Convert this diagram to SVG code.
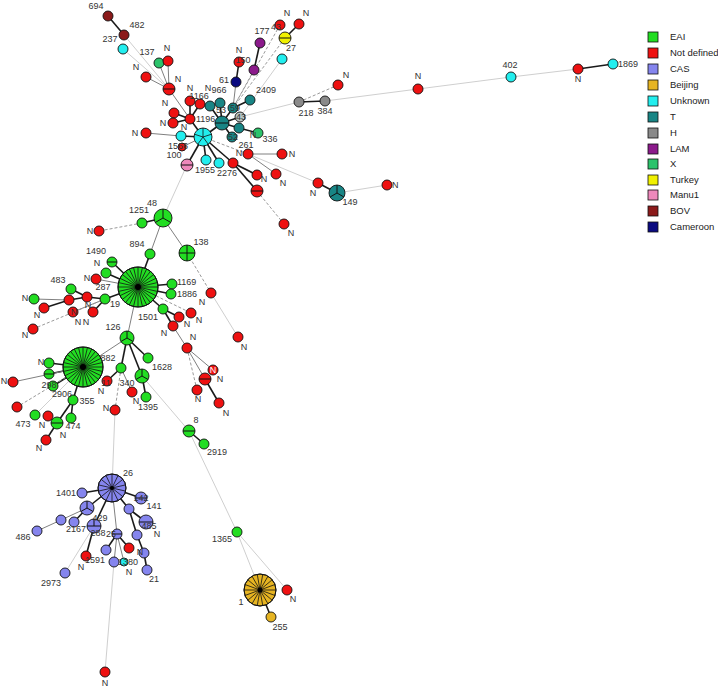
<svg xmlns="http://www.w3.org/2000/svg" width="718" height="688" viewBox="0 0 718 688">
<style>
line{fill:none}
.k{stroke:#1a1a1a;stroke-width:1.6}
.g{stroke:#808080;stroke-width:1}
.l{stroke:#cfcfcf;stroke-width:1}
.d{stroke:#9a9a9a;stroke-width:1;stroke-dasharray:3 2}
circle{stroke:#111;stroke-width:0.9}
.sec{stroke:#111;stroke-width:1;fill:none}
.spk{stroke:#111;stroke-width:0.8;fill:none}
.dot{fill:#000;stroke:none}
.eai{fill:#22dd22}.nd{fill:#ee1111}.cas{fill:#8585ee}.bei{fill:#e6b422}.unk{fill:#22eeee}
.t{fill:#188585}.h{fill:#8a8a8a}.lam{fill:#8b1a8b}.x{fill:#2cc36b}.tur{fill:#f0f000}
.man{fill:#ee88bb}.bov{fill:#8b1a1a}.cam{fill:#0a0a80}
text{font-family:"Liberation Sans",Arial,sans-serif;font-size:9px;fill:#333;text-anchor:middle}
.s{text-anchor:start}
.lg{font-size:9.5px;text-anchor:start;fill:#222}
</style>
<defs>
<line id="dia" x1="-1" y1="0" x2="1" y2="0" vector-effect="non-scaling-stroke"/>
<g id="w28" class="spk">
<use href="#dia"/><use href="#dia" transform="rotate(12.857)"/><use href="#dia" transform="rotate(25.714)"/><use href="#dia" transform="rotate(38.571)"/><use href="#dia" transform="rotate(51.429)"/><use href="#dia" transform="rotate(64.286)"/><use href="#dia" transform="rotate(77.143)"/><use href="#dia" transform="rotate(90)"/><use href="#dia" transform="rotate(102.857)"/><use href="#dia" transform="rotate(115.714)"/><use href="#dia" transform="rotate(128.571)"/><use href="#dia" transform="rotate(141.429)"/><use href="#dia" transform="rotate(154.286)"/><use href="#dia" transform="rotate(167.143)"/>
</g>
<g id="w18" class="spk">
<use href="#dia"/><use href="#dia" transform="rotate(20)"/><use href="#dia" transform="rotate(40)"/><use href="#dia" transform="rotate(60)"/><use href="#dia" transform="rotate(80)"/><use href="#dia" transform="rotate(100)"/><use href="#dia" transform="rotate(120)"/><use href="#dia" transform="rotate(140)"/><use href="#dia" transform="rotate(160)"/>
</g>
<g id="w14" class="spk">
<use href="#dia" transform="rotate(12.857)"/><use href="#dia" transform="rotate(38.571)"/><use href="#dia" transform="rotate(64.286)"/><use href="#dia" transform="rotate(90)"/><use href="#dia" transform="rotate(115.714)"/><use href="#dia" transform="rotate(141.429)"/><use href="#dia" transform="rotate(167.143)"/>
</g>
</defs>
<rect width="718" height="688" fill="#fff"/>
<g id="edges">
<line class="k" x1="108" y1="16" x2="124" y2="35"/>
<line class="l" x1="124" y1="35" x2="169" y2="89"/>
<line class="l" x1="123" y1="49" x2="169" y2="89"/>
<line class="g" x1="159" y1="63" x2="169" y2="89"/>
<line class="g" x1="168" y1="61" x2="169" y2="89"/>
<line class="g" x1="146" y1="77" x2="169" y2="89"/>
<line class="g" x1="169" y1="89" x2="190" y2="119"/>
<line class="k" x1="190" y1="101" x2="190" y2="119"/>
<line class="k" x1="200" y1="104" x2="190" y2="119"/>
<line class="k" x1="174" y1="113" x2="190" y2="119"/>
<line class="k" x1="173" y1="123" x2="190" y2="119"/>
<line class="k" x1="190" y1="119" x2="203" y2="137"/>
<line class="k" x1="203" y1="137" x2="222" y2="123"/>
<line class="k" x1="210" y1="106" x2="222" y2="123"/>
<line class="k" x1="220" y1="103" x2="222" y2="123"/>
<line class="k" x1="233" y1="108" x2="222" y2="123"/>
<line class="k" x1="240" y1="117" x2="222" y2="123"/>
<line class="k" x1="239" y1="128" x2="222" y2="123"/>
<line class="k" x1="232" y1="137" x2="222" y2="123"/>
<line class="k" x1="250" y1="100" x2="233" y2="108"/>
<line class="k" x1="258" y1="133" x2="239" y2="128"/>
<line class="g" x1="236" y1="82" x2="233" y2="108"/>
<line class="k" x1="239" y1="62" x2="236" y2="82"/>
<line class="d" x1="254" y1="70" x2="233" y2="108"/>
<line class="k" x1="260" y1="43" x2="254" y2="70"/>
<line class="d" x1="280" y1="25" x2="233" y2="108"/>
<line class="d" x1="285" y1="38" x2="233" y2="108"/>
<line class="k" x1="285" y1="38" x2="299" y2="24"/>
<line class="l" x1="282" y1="59" x2="240" y2="117"/>
<line class="l" x1="299" y1="102" x2="240" y2="117"/>
<line class="k" x1="299" y1="102" x2="325" y2="101"/>
<line class="d" x1="299" y1="102" x2="338" y2="85"/>
<line class="l" x1="325" y1="101" x2="418" y2="89"/>
<line class="l" x1="418" y1="89" x2="511" y2="77"/>
<line class="l" x1="511" y1="77" x2="578" y2="69"/>
<line class="k" x1="578" y1="69" x2="613" y2="64"/>
<line class="k" x1="203" y1="137" x2="181" y2="136"/>
<line class="g" x1="181" y1="136" x2="146" y2="133"/>
<line class="g" x1="203" y1="137" x2="182" y2="147"/>
<line class="k" x1="203" y1="137" x2="187" y2="165"/>
<line class="l" x1="187" y1="165" x2="163" y2="218"/>
<line class="k" x1="203" y1="137" x2="206" y2="160"/>
<line class="k" x1="203" y1="137" x2="219" y2="163"/>
<line class="k" x1="203" y1="137" x2="233" y2="163"/>
<line class="k" x1="233" y1="163" x2="257" y2="175"/>
<line class="k" x1="233" y1="163" x2="257" y2="191"/>
<line class="d" x1="257" y1="191" x2="284" y2="224"/>
<line class="d" x1="203" y1="137" x2="248" y2="154"/>
<line class="g" x1="248" y1="154" x2="282" y2="154"/>
<line class="g" x1="248" y1="154" x2="276" y2="174"/>
<line class="l" x1="248" y1="154" x2="318" y2="183"/>
<line class="k" x1="318" y1="183" x2="337" y2="193"/>
<line class="l" x1="337" y1="193" x2="387" y2="185"/>
<line class="k" x1="163" y1="218" x2="142" y2="223"/>
<line class="d" x1="142" y1="223" x2="99" y2="231"/>
<line class="g" x1="163" y1="218" x2="150" y2="254"/>
<line class="k" x1="150" y1="254" x2="138" y2="287"/>
<line class="g" x1="163" y1="218" x2="187" y2="253"/>
<line class="d" x1="187" y1="253" x2="211" y2="293"/>
<line class="l" x1="211" y1="293" x2="238" y2="337"/>
<line class="k" x1="138" y1="287" x2="172" y2="284"/>
<line class="k" x1="138" y1="287" x2="171" y2="294"/>
<line class="k" x1="138" y1="287" x2="112" y2="262"/>
<line class="k" x1="138" y1="287" x2="106" y2="273"/>
<line class="g" x1="138" y1="287" x2="96" y2="279"/>
<line class="k" x1="138" y1="287" x2="105" y2="299"/>
<line class="k" x1="105" y1="299" x2="87" y2="297"/>
<line class="k" x1="87" y1="297" x2="71" y2="289"/>
<line class="k" x1="87" y1="297" x2="69" y2="300"/>
<line class="g" x1="69" y1="300" x2="34" y2="299"/>
<line class="k" x1="69" y1="300" x2="44" y2="308"/>
<line class="g" x1="105" y1="299" x2="73" y2="312"/>
<line class="k" x1="105" y1="299" x2="93" y2="312"/>
<line class="d" x1="33" y1="329" x2="105" y2="299"/>
<line class="k" x1="138" y1="287" x2="163" y2="309"/>
<line class="k" x1="163" y1="309" x2="179" y2="317"/>
<line class="k" x1="163" y1="309" x2="173" y2="326"/>
<line class="d" x1="138" y1="287" x2="191" y2="313"/>
<line class="g" x1="173" y1="326" x2="187" y2="348"/>
<line class="g" x1="187" y1="348" x2="213" y2="370"/>
<line class="g" x1="187" y1="348" x2="205" y2="379"/>
<line class="d" x1="187" y1="348" x2="197" y2="390"/>
<line class="k" x1="205" y1="379" x2="219" y2="403"/>
<line class="g" x1="138" y1="287" x2="127" y2="338"/>
<line class="g" x1="127" y1="338" x2="83" y2="367"/>
<line class="k" x1="127" y1="338" x2="148" y2="358"/>
<line class="k" x1="127" y1="338" x2="121" y2="368"/>
<line class="k" x1="127" y1="338" x2="142" y2="376"/>
<line class="k" x1="121" y1="368" x2="107" y2="381"/>
<line class="g" x1="121" y1="368" x2="132" y2="392"/>
<line class="d" x1="121" y1="368" x2="115" y2="410"/>
<line class="k" x1="142" y1="376" x2="146" y2="397"/>
<line class="l" x1="142" y1="376" x2="189" y2="431"/>
<line class="k" x1="189" y1="431" x2="204" y2="444"/>
<line class="l" x1="189" y1="431" x2="237" y2="532"/>
<line class="l" x1="237" y1="532" x2="260" y2="590"/>
<line class="l" x1="237" y1="532" x2="287" y2="590"/>
<line class="k" x1="260" y1="590" x2="271" y2="617"/>
<line class="k" x1="83" y1="367" x2="49" y2="363"/>
<line class="k" x1="83" y1="367" x2="49" y2="374"/>
<line class="k" x1="83" y1="367" x2="53" y2="386"/>
<line class="g" x1="83" y1="367" x2="13" y2="382"/>
<line class="k" x1="83" y1="367" x2="73" y2="400"/>
<line class="k" x1="73" y1="400" x2="71" y2="418"/>
<line class="k" x1="73" y1="400" x2="57" y2="423"/>
<line class="k" x1="57" y1="423" x2="46" y2="440"/>
<line class="g" x1="57" y1="423" x2="48" y2="416"/>
<line class="d" x1="83" y1="367" x2="17" y2="407"/>
<line class="l" x1="83" y1="367" x2="35" y2="415"/>
<line class="l" x1="115" y1="410" x2="112" y2="488"/>
<line class="k" x1="112" y1="488" x2="82" y2="493"/>
<line class="k" x1="112" y1="488" x2="87" y2="508"/>
<line class="k" x1="112" y1="488" x2="94" y2="526"/>
<line class="g" x1="112" y1="488" x2="117" y2="534"/>
<line class="k" x1="112" y1="488" x2="129" y2="509"/>
<line class="k" x1="112" y1="488" x2="141" y2="498"/>
<line class="g" x1="87" y1="508" x2="61" y2="520"/>
<line class="g" x1="61" y1="520" x2="37" y2="531"/>
<line class="k" x1="87" y1="508" x2="74" y2="522"/>
<line class="k" x1="94" y1="526" x2="86" y2="556"/>
<line class="l" x1="94" y1="526" x2="65" y2="573"/>
<line class="k" x1="117" y1="534" x2="129" y2="548"/>
<line class="k" x1="117" y1="534" x2="106" y2="550"/>
<line class="g" x1="117" y1="534" x2="114" y2="562"/>
<line class="g" x1="117" y1="534" x2="124" y2="562"/>
<line class="k" x1="129" y1="509" x2="146" y2="522"/>
<line class="k" x1="129" y1="509" x2="137" y2="535"/>
<line class="k" x1="137" y1="535" x2="144" y2="553"/>
<line class="k" x1="144" y1="553" x2="147" y2="570"/>
<line class="l" x1="114" y1="562" x2="105" y2="672"/>
</g>
<g id="n694"><circle class="bov" cx="108" cy="16" r="5"/><text x="96" y="9">694</text></g>
<g id="n482"><circle class="bov" cx="124" cy="35" r="5"/><text x="137" y="28">482</text></g>
<g id="n237"><circle class="unk" cx="123" cy="49" r="5"/><text x="110" y="42">237</text></g>
<g id="n137"><circle class="x" cx="159" cy="63" r="5"/><text x="147" y="55">137</text></g>
<g id="nr1"><circle class="nd" cx="168" cy="61" r="5"/><text x="167" y="51">N</text></g>
<g id="nr2"><circle class="nd" cx="146" cy="77" r="5"/><text x="136" y="70">N</text></g>
<g id="nrb1"><circle class="nd" cx="169" cy="89" r="6"/><path class="sec" d="M163 89H175"/><text x="178" y="82">N</text></g>
<g id="nr3"><circle class="nd" cx="190" cy="101" r="5"/><text x="190" y="91">N</text><text x="199" y="99">1166</text></g>
<g id="nr4"><circle class="nd" cx="200" cy="104" r="5"/><text x="208" y="91">N</text></g>
<g id="n1196"><circle class="nd" cx="190" cy="119" r="5"/><text class="s" x="196" y="122">1196</text></g>
<g id="nr5"><circle class="nd" cx="174" cy="113" r="5"/><text x="165" y="106">N</text></g>
<g id="nr6"><circle class="nd" cx="173" cy="123" r="5"/><text x="163" y="126">N</text></g>
<g id="nT"><circle class="t" cx="222" cy="123" r="7"/><path class="sec" d="M215 123H229"/></g>
<g id="nt1"><circle class="t" cx="210" cy="106" r="5"/></g>
<g id="nt2"><circle class="t" cx="220" cy="103" r="5"/><text x="219" y="93">966</text><text x="221" y="113">53</text></g>
<g id="n59"><circle class="t" cx="233" cy="108" r="5"/><text x="235" y="111">59</text></g>
<g id="n43g"><circle cx="240" cy="117" r="5" style="fill:#b8c4c4"/><text x="241" y="120">43</text></g>
<g id="nt3"><circle class="t" cx="239" cy="128" r="5"/></g>
<g id="n52"><circle class="t" cx="232" cy="137" r="5"/><text x="233" y="140">52</text></g>
<g id="n2409"><circle class="t" cx="250" cy="100" r="5"/><text x="266" y="93">2409</text></g>
<g id="n336"><circle class="x" cx="258" cy="133" r="5"/><text x="270" y="142">336</text></g>
<g id="n61"><circle class="cam" cx="236" cy="82" r="5"/><text x="224" y="83">61</text></g>
<g id="n150"><circle class="nd" cx="239" cy="62" r="5"/><text x="239" y="53">N</text><text x="243" y="63">150</text></g>
<g id="n177"><circle class="lam" cx="260" cy="43" r="5"/><text x="262" y="34">177</text></g>
<g id="nlam2"><circle class="lam" cx="254" cy="70" r="5"/></g>
<g id="n43"><circle class="nd" cx="280" cy="25" r="5"/><text x="276" y="30">43</text><text x="287" y="16">N</text></g>
<g id="nr7"><circle class="nd" cx="299" cy="24" r="5"/><text x="306" y="16">N</text></g>
<g id="n27"><circle class="tur" cx="285" cy="38" r="6"/><path class="sec" d="M279 38H291"/><text x="291" y="51">27</text></g>
<g id="nc1"><circle class="unk" cx="282" cy="59" r="5"/></g>
<g id="n218"><circle class="h" cx="299" cy="102" r="5"/><text x="306" y="116">218</text></g>
<g id="n384"><circle class="h" cx="325" cy="101" r="5"/><text x="325" y="114">384</text></g>
<g id="nr8"><circle class="nd" cx="338" cy="85" r="5"/><text x="346" y="78">N</text></g>
<g id="nr9"><circle class="nd" cx="418" cy="89" r="5"/><text x="418" y="79">N</text></g>
<g id="n402"><circle class="unk" cx="511" cy="77" r="5"/><text x="510" y="68">402</text></g>
<g id="nr10"><circle class="nd" cx="578" cy="69" r="5"/><text x="578" y="82">N</text></g>
<g id="n1869"><circle class="unk" cx="613" cy="64" r="5"/><text class="s" x="618" y="67">1869</text></g>
<g id="nU"><circle class="unk" cx="203" cy="137" r="9"/><path class="spk" d="M203 137V128M203 137L211.6 134.2M203 137L208.3 144.3M203 137L197.7 144.3M203 137L194.4 134.2"/></g>
<g id="nc2"><circle class="unk" cx="181" cy="136" r="5"/><text x="184" y="130">N</text></g>
<g id="nr11"><circle class="nd" cx="146" cy="133" r="5"/><text x="135" y="136">N</text></g>
<g id="n1566"><circle class="nd" cx="182" cy="147" r="4"/><text x="178" y="149">1566</text></g>
<g id="n100"><circle class="man" cx="187" cy="165" r="6"/><path class="sec" d="M181 165H193"/><text x="174" y="158">100</text></g>
<g id="nc3"><circle class="unk" cx="206" cy="160" r="5"/></g>
<g id="nc4"><circle class="unk" cx="219" cy="163" r="5"/><text x="205" y="173">1955</text></g>
<g id="n2276"><circle class="nd" cx="233" cy="163" r="5"/><text x="227" y="176">2276</text></g>
<g id="nr12"><circle class="nd" cx="257" cy="175" r="5"/><text x="264" y="182">N</text></g>
<g id="nrb2"><circle class="nd" cx="257" cy="191" r="6"/><path class="sec" d="M251 191H263"/></g>
<g id="nr13"><circle class="nd" cx="284" cy="224" r="5"/><text x="291" y="236">N</text></g>
<g id="n261"><circle class="nd" cx="248" cy="154" r="5"/><text x="253" y="138">N</text><text x="246" y="148">261</text><text x="239" y="156">N</text></g>
<g id="nr14"><circle class="nd" cx="282" cy="154" r="5"/><text x="292" y="157">N</text></g>
<g id="nr15"><circle class="nd" cx="276" cy="174" r="5"/><text x="283" y="186">N</text></g>
<g id="nr16"><circle class="nd" cx="318" cy="183" r="5"/><text x="313" y="196">N</text></g>
<g id="n149"><circle class="t" cx="337" cy="193" r="8"/><path class="sec" d="M337 193V185M337 193L343.9 197M337 193L330.1 197"/><text x="350" y="205">149</text></g>
<g id="nr17"><circle class="nd" cx="387" cy="185" r="5"/><text class="s" x="392" y="188">N</text></g>
<g id="n48"><circle class="eai" cx="163" cy="218" r="9"/><path class="sec" d="M163 218V209M163 218L170.8 222.5M163 218L155.2 222.5"/><text x="152" y="206">48</text></g>
<g id="n1251"><circle class="eai" cx="142" cy="223" r="5"/><text x="139" y="213">1251</text></g>
<g id="nr18"><circle class="nd" cx="99" cy="231" r="5"/><text x="90" y="234">N</text></g>
<g id="n894"><circle class="eai" cx="150" cy="254" r="5"/><text x="137" y="247">894</text></g>
<g id="n138"><circle class="eai" cx="187" cy="253" r="8"/><path class="sec" d="M179 253H195M187 245V261"/><text x="201" y="245">138</text></g>
<g id="nr19"><circle class="nd" cx="211" cy="293" r="5"/><text x="202" y="305">N</text></g>
<g id="nr20"><circle class="nd" cx="238" cy="337" r="5"/><text x="244" y="350">N</text></g>
<g id="nE1"><circle class="eai" cx="138" cy="287" r="20"/><use href="#w28" transform="translate(138 287) scale(20)"/><circle cx="138" cy="287" r="20" fill="none"/><circle class="dot" cx="138" cy="287" r="3"/></g>
<g id="n1169"><circle class="eai" cx="172" cy="284" r="5"/><text class="s" x="177" y="285">1169</text></g>
<g id="n1886"><circle class="eai" cx="171" cy="294" r="5"/><text class="s" x="177" y="297">1886</text></g>
<g id="n1490"><circle class="eai" cx="112" cy="262" r="5"/><path class="sec" d="M107 262H117"/><text x="96" y="254">1490</text><text x="97" y="266">N</text></g>
<g id="ne2"><circle class="eai" cx="106" cy="273" r="5"/></g>
<g id="n287"><circle class="nd" cx="96" cy="279" r="5"/><text x="87" y="281">N</text><text x="103" y="290">287</text></g>
<g id="n483"><circle class="eai" cx="71" cy="289" r="5"/><text x="58" y="283">483</text></g>
<g id="ne3"><circle class="eai" cx="34" cy="299" r="5"/><text x="25" y="301">N</text></g>
<g id="nr22"><circle class="nd" cx="69" cy="300" r="5"/></g>
<g id="nr23"><circle class="nd" cx="87" cy="297" r="5"/></g>
<g id="n19"><circle class="eai" cx="105" cy="299" r="5"/><text x="115" y="307">19</text></g>
<g id="nr24"><circle class="nd" cx="44" cy="308" r="5"/><text x="37" y="318">N</text></g>
<g id="nr25"><circle class="nd" cx="73" cy="312" r="5"/><text x="74" y="315">N</text><text x="78" y="325">N</text><text x="86" y="325">N</text></g>
<g id="nr26"><circle class="nd" cx="93" cy="312" r="5"/><text x="88" y="308">N</text></g>
<g id="nr27"><circle class="nd" cx="33" cy="329" r="5"/><text x="25" y="338">N</text></g>
<g id="n1501"><circle class="eai" cx="163" cy="309" r="5"/><text x="148" y="320">1501</text></g>
<g id="nr28"><circle class="nd" cx="191" cy="313" r="5"/><text x="199" y="323">N</text></g>
<g id="nr29"><circle class="nd" cx="179" cy="317" r="5"/><text x="187" y="327">N</text></g>
<g id="nr30"><circle class="nd" cx="173" cy="326" r="5"/><text x="164" y="336">N</text></g>
<g id="nr31"><circle class="nd" cx="187" cy="348" r="5"/><text x="193" y="340">N</text></g>
<g id="nr32"><circle class="nd" cx="213" cy="370" r="5"/><text x="213" y="373" style="fill:#fff">N</text><text x="220" y="382">N</text></g>
<g id="nrb3"><circle class="nd" cx="205" cy="379" r="6"/><path class="sec" d="M199 379H211"/></g>
<g id="nr33"><circle class="nd" cx="197" cy="390" r="5"/><text x="198" y="402">N</text></g>
<g id="nr34"><circle class="nd" cx="219" cy="403" r="5"/><text x="226" y="416">N</text></g>
<g id="n126"><circle class="eai" cx="127" cy="338" r="7"/><path class="sec" d="M127 338V331M127 338L133.1 341.5M127 338L120.9 341.5"/><text x="113" y="330">126</text></g>
<g id="nE2"><circle class="eai" cx="83" cy="367" r="20"/><use href="#w28" transform="translate(83 367) scale(20)"/><circle cx="83" cy="367" r="20" fill="none"/><circle class="dot" cx="83" cy="367" r="3"/><text x="108" y="361">882</text></g>
<g id="n1628"><circle class="eai" cx="148" cy="358" r="5"/><text x="162" y="370">1628</text></g>
<g id="ne4"><circle class="eai" cx="121" cy="368" r="5"/></g>
<g id="nb5"><circle class="eai" cx="142" cy="376" r="7"/><path class="sec" d="M142 376V369M142 376L148.1 379.5M142 376L135.9 379.5"/></g>
<g id="nr35"><circle class="nd" cx="107" cy="381" r="5"/><text x="106" y="386">11</text><text x="101" y="394">N</text></g>
<g id="n340"><circle class="nd" cx="132" cy="392" r="5"/><text x="127" y="386">340</text><text x="136" y="404">N</text></g>
<g id="n1395"><circle class="eai" cx="146" cy="397" r="5"/><text x="148" y="410">1395</text></g>
<g id="nr37"><circle class="nd" cx="115" cy="410" r="5"/><text x="106" y="411">N</text></g>
<g id="ne5"><circle class="eai" cx="49" cy="363" r="5"/><text x="41" y="365">N</text></g>
<g id="nb6"><circle class="eai" cx="49" cy="374" r="5"/><path class="sec" d="M44 374H54"/></g>
<g id="n298"><circle class="eai" cx="53" cy="386" r="5"/><text x="49" y="388">298</text></g>
<g id="nr38"><circle class="nd" cx="13" cy="382" r="5"/><text x="4" y="384">N</text></g>
<g id="n355"><circle class="eai" cx="73" cy="400" r="5"/><text x="62" y="397">2906</text><text x="87" y="404">355</text></g>
<g id="nr39"><circle class="nd" cx="17" cy="407" r="5"/></g>
<g id="n473"><circle class="eai" cx="35" cy="415" r="5"/><text x="23" y="427">473</text></g>
<g id="nr40"><circle class="nd" cx="48" cy="416" r="5"/><text x="42" y="428">N</text></g>
<g id="ne8"><circle class="eai" cx="71" cy="418" r="5"/></g>
<g id="n474"><circle class="eai" cx="57" cy="423" r="6"/><path class="sec" d="M51 423H63"/><text x="73" y="429">474</text><text x="63" y="438">N</text></g>
<g id="nr41"><circle class="nd" cx="46" cy="440" r="5"/><text x="39" y="451">N</text></g>
<g id="n8"><circle class="eai" cx="189" cy="431" r="6"/><path class="sec" d="M183 431H195"/><text x="196" y="423">8</text></g>
<g id="n2919"><circle class="eai" cx="204" cy="444" r="5"/><text x="217" y="455">2919</text></g>
<g id="n26"><circle class="cas" cx="112" cy="488" r="14"/><use href="#w14" transform="translate(112 488) scale(14)"/><circle cx="112" cy="488" r="14" fill="none"/><circle class="dot" cx="112" cy="488" r="2"/><text x="128" y="476">26</text></g>
<g id="n1401"><circle class="cas" cx="82" cy="493" r="5"/><text x="66" y="496">1401</text></g>
<g id="n142"><circle class="cas" cx="141" cy="498" r="6"/><path class="sec" d="M135 498H147"/><text x="141" y="501">142</text><text x="154" y="509">141</text></g>
<g id="nc3s"><circle class="cas" cx="87" cy="508" r="7"/><path class="sec" d="M87 508V501M87 508L93.1 511.5M87 508L80.9 511.5"/></g>
<g id="nc5"><circle class="cas" cx="61" cy="520" r="5"/></g>
<g id="n486"><circle class="cas" cx="37" cy="531" r="5"/><text x="23" y="540">486</text></g>
<g id="n2167"><circle class="cas" cx="74" cy="522" r="5"/><text x="76" y="532">2167</text></g>
<g id="n429"><circle class="cas" cx="94" cy="526" r="7"/><path class="sec" d="M87 526H101M94 526V519"/><text x="100" y="521">429</text><text x="98" y="536">288</text></g>
<g id="nc7"><circle class="cas" cx="129" cy="509" r="5"/></g>
<g id="n485"><circle class="cas" cx="146" cy="522" r="7"/><path class="sec" d="M139 522H153"/><text x="149" y="529">485</text><text x="157" y="537">N</text></g>
<g id="nc8"><circle class="cas" cx="137" cy="535" r="5"/></g>
<g id="n25"><circle class="cas" cx="117" cy="534" r="5"/><path class="sec" d="M112 534H122"/><text x="111" y="537">25</text></g>
<g id="nr42"><circle class="nd" cx="129" cy="548" r="5"/></g>
<g id="nc9"><circle class="cas" cx="106" cy="550" r="5"/></g>
<g id="nc10"><circle class="cas" cx="144" cy="553" r="5"/><text x="140" y="555">N</text></g>
<g id="nc11"><circle class="cas" cx="114" cy="562" r="5"/></g>
<g id="n1380"><circle class="unk" cx="124" cy="562" r="4"/><text x="128" y="565">1380</text><text x="129" y="575">N</text></g>
<g id="n1591"><circle class="nd" cx="86" cy="556" r="5"/><text x="95" y="563">1591</text><text x="81" y="570">N</text></g>
<g id="n2973"><circle class="cas" cx="65" cy="573" r="5"/><text x="51" y="586">2973</text></g>
<g id="n21"><circle class="cas" cx="147" cy="570" r="5"/><text x="154" y="582">21</text></g>
<g id="nr44"><circle class="nd" cx="105" cy="672" r="5"/><text x="105" y="686">N</text></g>
<g id="n1365"><circle class="eai" cx="237" cy="532" r="5"/><text x="222" y="542">1365</text></g>
<g id="n1"><circle class="bei" cx="260" cy="590" r="16"/><use href="#w18" transform="translate(260 590) scale(16)"/><circle cx="260" cy="590" r="16" fill="none"/><circle class="dot" cx="260" cy="590" r="2.5"/><text x="241" y="605">1</text></g>
<g id="nr45"><circle class="nd" cx="287" cy="590" r="5"/><text x="293" y="602">N</text></g>
<g id="n255"><circle class="bei" cx="271" cy="617" r="5"/><text x="280" y="630">255</text></g>
<g id="legend">
<rect class="eai" x="648" y="32" width="10" height="10" stroke="#111" stroke-width="0.8"/><text class="lg" x="670" y="40">EAI</text>
<rect class="nd" x="648" y="48" width="10" height="10" stroke="#111" stroke-width="0.8"/><text class="lg" x="670" y="56">Not defined</text>
<rect class="cas" x="648" y="64" width="10" height="10" stroke="#111" stroke-width="0.8"/><text class="lg" x="670" y="72">CAS</text>
<rect class="bei" x="648" y="80" width="10" height="10" stroke="#111" stroke-width="0.8"/><text class="lg" x="670" y="88">Beijing</text>
<rect class="unk" x="648" y="96" width="10" height="10" stroke="#111" stroke-width="0.8"/><text class="lg" x="670" y="104">Unknown</text>
<rect class="t" x="648" y="112" width="10" height="10" stroke="#111" stroke-width="0.8"/><text class="lg" x="670" y="120">T</text>
<rect class="h" x="648" y="128" width="10" height="10" stroke="#111" stroke-width="0.8"/><text class="lg" x="670" y="136">H</text>
<rect class="lam" x="648" y="144" width="10" height="10" stroke="#111" stroke-width="0.8"/><text class="lg" x="670" y="152">LAM</text>
<rect class="x" x="648" y="159" width="10" height="10" stroke="#111" stroke-width="0.8"/><text class="lg" x="670" y="167">X</text>
<rect class="tur" x="648" y="175" width="10" height="10" stroke="#111" stroke-width="0.8"/><text class="lg" x="670" y="183">Turkey</text>
<rect class="man" x="648" y="190" width="10" height="10" stroke="#111" stroke-width="0.8"/><text class="lg" x="670" y="198">Manu1</text>
<rect class="bov" x="648" y="206" width="10" height="10" stroke="#111" stroke-width="0.8"/><text class="lg" x="670" y="214">BOV</text>
<rect class="cam" x="648" y="222" width="10" height="10" stroke="#111" stroke-width="0.8"/><text class="lg" x="670" y="230">Cameroon</text>
</g>
</svg>
